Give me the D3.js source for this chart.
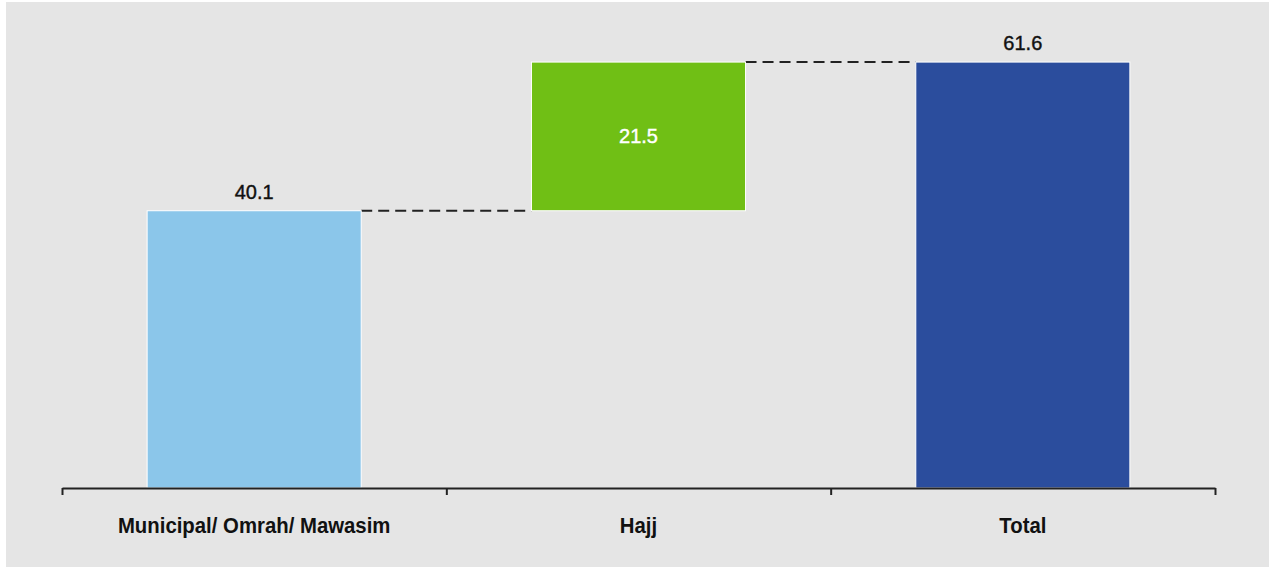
<!DOCTYPE html>
<html>
<head>
<meta charset="utf-8">
<script src="https://cdn.jsdelivr.net/npm/d3@7"></script>
<style>
  html, body { margin: 0; padding: 0; background: #fff; }
  svg { display: block; }
</style>
</head>
<body>
<div id="chart"></div>
<script>
// waterfall data: start, increment, total
const categories = ["Municipal/ Omrah/ Mawasim", "Hajj", "Total"];
const values = [40.1, 21.5, 61.6];
const kinds = ["base", "step", "total"];
const labels = ["40.1", "21.5", "61.6"];

const w = 1269, h = 569;
const colors = { base: "#8bc6ea", step: "#70bf15", total: "#2b4d9d" };

const svg = d3.select("#chart").append("svg").attr("width", w).attr("height", h);

// grey panel
svg.append("rect").attr("x", 6).attr("y", 2).attr("width", w - 6).attr("height", 565).attr("fill", "#e5e5e5");

const x = d3.scaleBand().domain(categories).range([62, 1215]).padding(0);
const y = d3.scaleLinear().domain([0, 70]).range([488, 4]);
const barFrac = 0.557;

// work out start/end of each bar
let run = 0;
const bars = categories.map((c, i) => {
  let lo, hi;
  if (kinds[i] === "total") { lo = 0; hi = values[i]; }
  else { lo = run; hi = run + values[i]; run = hi; }
  return { c, lo, hi, kind: kinds[i], label: labels[i] };
});

const bw = x.bandwidth() * barFrac;
const bx = d => x(d.c) + (x.bandwidth() - bw) / 2;

// connectors
for (let i = 0; i < bars.length - 1; i++) {
  const a = bars[i], b = bars[i + 1];
  svg.append("line")
    .attr("x1", bx(a) + bw).attr("x2", bx(b))
    .attr("y1", y(a.hi)).attr("y2", y(a.hi))
    .attr("stroke", "#222").attr("stroke-width", 2)
    .attr("stroke-dasharray", "11,6");
}

svg.selectAll("rect.bar").data(bars).join("rect")
  .attr("class", "bar")
  .attr("x", bx)
  .attr("y", d => y(d.hi))
  .attr("width", bw)
  .attr("height", d => y(d.lo) - y(d.hi))
  .attr("fill", d => colors[d.kind])
  .attr("stroke", "#fff").attr("stroke-width", 1);

// value labels
svg.selectAll("text.val").data(bars).join("text")
  .attr("class", "val")
  .attr("x", d => bx(d) + bw / 2)
  .attr("y", d => d.kind === "step" ? (y(d.lo) + y(d.hi)) / 2 + 7 : y(d.hi) - 12)
  .attr("text-anchor", "middle")
  .attr("font-family", "Liberation Sans, Arial, sans-serif")
  .attr("font-size", 20)
  .attr("stroke", d => d.kind === "step" ? "#fff" : "#111")
  .attr("stroke-width", 0.4)
  .attr("fill", d => d.kind === "step" ? "#fff" : "#111")
  .text(d => d.label);

// axis with ticks at the band edges
const xe = d3.scaleLinear().domain([0, categories.length]).range([62, 1215]);
svg.append("g")
  .attr("transform", "translate(0,488)")
  .call(d3.axisBottom(xe).tickValues(d3.range(categories.length + 1)).tickSize(7).tickSizeOuter(0).tickFormat(""))
  .call(g => g.select(".domain").attr("stroke", "#222").attr("stroke-width", 2))
  .call(g => g.selectAll(".tick line").attr("stroke", "#222").attr("stroke-width", 2));

// category names, squeezed a little to look like the narrow face
svg.selectAll("text.cat").data(categories).join("text")
  .attr("class", "cat")
  .attr("transform", d => `translate(${x(d) + x.bandwidth() / 2},533) scale(0.925,1)`)
  .attr("text-anchor", "middle")
  .attr("font-family", "Liberation Sans, Arial, sans-serif")
  .attr("font-weight", "bold")
  .attr("font-size", 22)
  .attr("fill", "#111")
  .text(d => d);
</script>
</body>
</html>
